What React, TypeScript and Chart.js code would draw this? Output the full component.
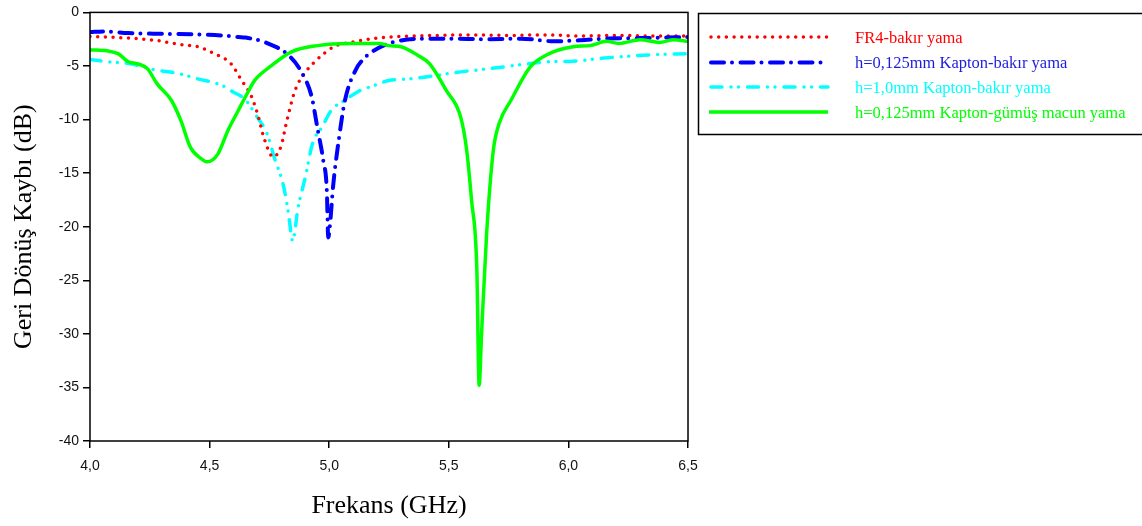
import React, { useEffect, useRef } from "react";
import { Chart, registerables } from "chart.js";

Chart.register(...registerables);

// ---- Data ----
const seriesLabels = [
  "FR4-bakır yama",
  "h=0,125mm Kapton-bakır yama",
  "h=1,0mm Kapton-bakır yama",
  "h=0,125mm Kapton-gümüş macun yama",
];

const fr4Freq = [4.0, 4.13, 4.27, 4.38, 4.45, 4.52, 4.59, 4.63, 4.676, 4.7, 4.73, 4.766, 4.8, 4.82, 4.857, 4.9, 4.94, 5.02, 5.09, 5.2, 5.3, 5.45, 5.6, 5.75, 5.9, 6.05, 6.2, 6.35, 6.5];
const fr4Loss = [-2.24, -2.36, -2.6, -3.0, -3.2, -3.85, -4.8, -6.2, -7.9, -9.45, -11.9, -13.5, -12.4, -10.4, -7.3, -5.6, -4.6, -3.2, -2.8, -2.4, -2.25, -2.15, -2.1, -2.15, -2.1, -2.2, -2.15, -2.2, -2.2];

const kaptonCuFreq = [4.0, 4.06, 4.16, 4.31, 4.45, 4.55, 4.62, 4.65, 4.74, 4.83, 4.885, 4.927, 4.95, 4.975, 4.99, 4.996, 5.005, 5.016, 5.04, 5.066, 5.11, 5.15, 5.2, 5.27, 5.39, 5.5, 5.65, 5.8, 5.94, 6.05, 6.15, 6.3, 6.5];
const kaptonCuLoss = [-1.84, -1.77, -1.93, -2.0, -2.05, -2.15, -2.3, -2.35, -2.86, -4.0, -5.6, -7.9, -10.7, -13.8, -16.6, -21.0, -19.4, -16.3, -11.9, -8.2, -5.4, -4.2, -3.4, -2.77, -2.45, -2.45, -2.5, -2.45, -2.7, -2.6, -2.45, -2.4, -2.3];

const thickCuFreq = [4.0, 4.075, 4.17, 4.27, 4.37, 4.45, 4.55, 4.6, 4.645, 4.7, 4.74, 4.77, 4.81, 4.83, 4.847, 4.87, 4.9, 4.93, 4.97, 5.01, 5.066, 5.12, 5.19, 5.25, 5.34, 5.41, 5.55, 5.67, 5.83, 5.92, 6.02, 6.13, 6.24, 6.35, 6.5];
const thickCuLoss = [-4.4, -4.6, -4.8, -5.35, -5.7, -6.2, -6.8, -7.45, -8.05, -9.8, -11.3, -13.5, -16.3, -18.8, -21.3, -18.2, -15.4, -12.25, -10.7, -9.1, -8.2, -7.4, -6.8, -6.35, -6.2, -6.0, -5.55, -5.25, -4.8, -4.6, -4.55, -4.3, -4.1, -3.95, -3.85];

const silverFreq = [4.0, 4.075, 4.117, 4.16, 4.2, 4.24, 4.28, 4.34, 4.38, 4.42, 4.465, 4.49, 4.535, 4.577, 4.62, 4.66, 4.69, 4.76, 4.84, 4.95, 5.09, 5.21, 5.25, 5.3, 5.37, 5.42, 5.49, 5.55, 5.575, 5.595, 5.617, 5.627, 5.637, 5.658, 5.686, 5.71, 5.76, 5.84, 5.92, 6.02, 6.09, 6.16, 6.21, 6.3, 6.38, 6.44, 6.5];
const silverLoss = [-3.5, -3.6, -3.85, -4.6, -4.8, -5.25, -6.65, -8.2, -10.1, -12.6, -13.65, -13.95, -13.2, -11.0, -9.15, -7.45, -6.3, -4.95, -3.7, -3.1, -2.9, -2.9, -3.1, -3.2, -4.0, -4.8, -7.3, -9.8, -12.9, -17.5, -23.8, -34.8, -30.0, -20.7, -12.9, -10.4, -8.2, -5.1, -3.85, -3.2, -3.1, -2.7, -2.9, -2.55, -2.8, -2.55, -2.7];

const xTickValues = [4.0, 4.5, 5.0, 5.5, 6.0, 6.5];
const xTickLabels = ["4,0", "4,5", "5,0", "5,5", "6,0", "6,5"];
const yTickValues = [0, -5, -10, -15, -20, -25, -30, -35, -40];
const yTickLabels = ["0", "-5", "-10", "-15", "-20", "-25", "-30", "-35", "-40"];

const xTitle = "Frekans (GHz)";
const yTitle = "Geri Dönüş Kaybı (dB)";

// ---- Styles ----
const colors = ["#ff0000", "#0000ff", "#00ffff", "#00ff00"];
const dashes = [[0, 7.7], [13, 8, 0, 8.5], [11, 9, 0, 7.5, 0, 9], []];
const widths = [3.5, 4, 3.5, 3.5];

const pts = (xs: number[], ys: number[]) => xs.map((x, i) => ({ x, y: ys[i] }));

const frameAndLegend = {
  id: "frameAndLegend",
  afterDatasetsDraw(chart: any) {
    const { ctx, chartArea } = chart;
    ctx.save();
    ctx.strokeStyle = "#000";
    ctx.lineWidth = 1.5;
    ctx.setLineDash([]);
    ctx.strokeRect(chartArea.left, chartArea.top, chartArea.right - chartArea.left, chartArea.bottom - chartArea.top);
    ctx.restore();
  },
  afterDraw(chart: any) {
    const { ctx } = chart;
    ctx.save();
    ctx.strokeStyle = "#000";
    ctx.lineWidth = 1.5;
    ctx.setLineDash([]);
    ctx.strokeRect(698.5, 13.5, 460, 121);
    const rows = [37, 62.5, 87, 112];
    seriesLabels.forEach((lab, i) => {
      const y = rows[i];
      ctx.beginPath();
      ctx.strokeStyle = colors[i];
      ctx.lineWidth = widths[i];
      ctx.lineCap = i === 3 ? "butt" : "round";
      ctx.setLineDash(dashes[i]);
      ctx.moveTo(i === 3 ? 709 : 711, y);
      ctx.lineTo(828, y);
      ctx.stroke();
      ctx.setLineDash([]);
      ctx.fillStyle = colors[i] === "#0000ff" ? "#1c1ce0" : colors[i];
      ctx.font = '16.5px "Liberation Serif", "Times New Roman", serif';
      ctx.textBaseline = "middle";
      ctx.textAlign = "left";
      ctx.fillText(lab, 855, y + 1.5);
    });
    ctx.restore();
  },
};

export default function App() {
  const ref = useRef<HTMLCanvasElement | null>(null);
  useEffect(() => {
    if (!ref.current) return;
    const series = [
      pts(fr4Freq, fr4Loss),
      pts(kaptonCuFreq, kaptonCuLoss),
      pts(thickCuFreq, thickCuLoss),
      pts(silverFreq, silverLoss),
    ];
    const chart = new Chart(ref.current, {
      type: "line",
      data: {
        datasets: series.map((d, i) => ({
          label: seriesLabels[i],
          data: d,
          borderColor: colors[i],
          backgroundColor: colors[i],
          borderWidth: widths[i],
          borderDash: dashes[i],
          borderCapStyle: i === 3 ? "butt" : "round",
          borderJoinStyle: "round",
          pointRadius: 0,
          fill: false,
          cubicInterpolationMode: "monotone",
          order: [2, 1, 3, 0][i],
        })),
      },
      options: {
        animation: false,
        responsive: false,
        devicePixelRatio: 1,
        layout: { padding: { left: 0, top: 12, right: 454, bottom: 0 } },
        plugins: { legend: { display: false }, tooltip: { enabled: false } },
        scales: {
          x: {
            type: "linear",
            min: 4,
            max: 6.5,
            afterFit: (s: any) => { s.height = 85; },
            afterBuildTicks: (s: any) => { s.ticks = xTickValues.map((v) => ({ value: v })); },
            border: { display: false },
            grid: { display: true, drawOnChartArea: false, drawTicks: true, tickLength: 7, color: "#000", lineWidth: 1.5 },
            ticks: {
              color: "#111",
              padding: 10,
              font: { family: '"Liberation Sans", Arial, sans-serif', size: 14 },
              callback: (v: any) => {
                const i = xTickValues.findIndex((t) => Math.abs(t - Number(v)) < 1e-6);
                return i >= 0 ? xTickLabels[i] : "";
              },
            },
            title: {
              display: true,
              text: xTitle,
              color: "#000",
              font: { family: '"Liberation Serif", "Times New Roman", serif', size: 26 },
              padding: { top: 0, bottom: 4 },
            },
          },
          y: {
            type: "linear",
            min: -40,
            max: 0,
            afterFit: (s: any) => { s.width = 90; },
            afterBuildTicks: (s: any) => { s.ticks = yTickValues.map((v) => ({ value: v })); },
            border: { display: false },
            grid: { display: true, drawOnChartArea: false, drawTicks: true, tickLength: 7, color: "#000", lineWidth: 1.5 },
            ticks: {
              color: "#111",
              padding: 4,
              font: { family: '"Liberation Sans", Arial, sans-serif', size: 14 },
              callback: (v: any) => {
                const i = yTickValues.findIndex((t) => Math.abs(t - Number(v)) < 1e-6);
                return i >= 0 ? yTickLabels[i] : "";
              },
            },
            title: {
              display: true,
              text: yTitle,
              color: "#000",
              font: { family: '"Liberation Serif", "Times New Roman", serif', size: 26 },
              padding: { top: 9, bottom: 0 },
            },
          },
        },
      },
      plugins: [frameAndLegend],
    } as any);
    return () => chart.destroy();
  }, []);
  return (
    <div style={{ position: "fixed", left: 0, top: 0, width: 1142, height: 526, background: "#fff" }}>
      <canvas ref={ref} width={1142} height={526} style={{ display: "block" }} />
    </div>
  );
}
